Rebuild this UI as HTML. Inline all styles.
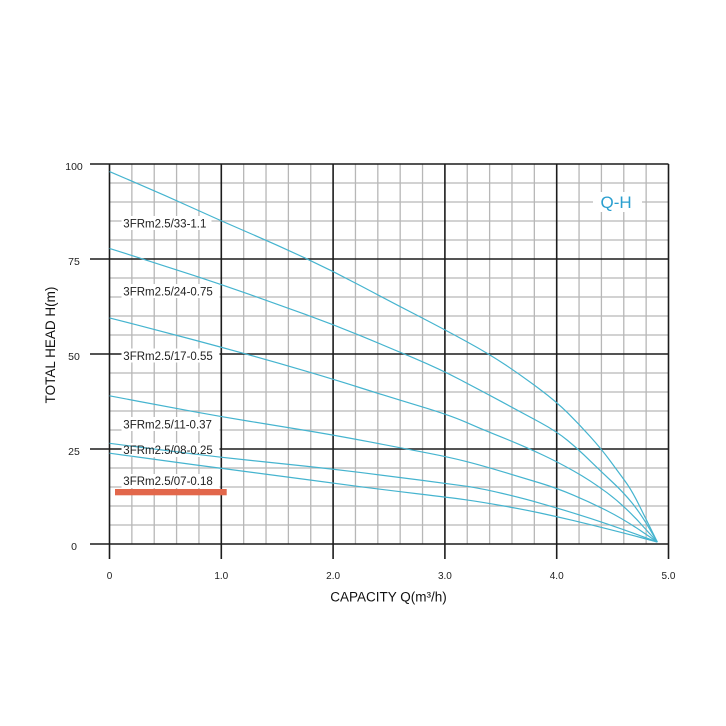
<!DOCTYPE html>
<html><head><meta charset="utf-8"><style>
html,body{margin:0;padding:0;background:#fff;}
svg{display:block;}
text{font-family:"Liberation Sans",Arial,sans-serif;}
</style></head><body>
<svg width="726" height="726" viewBox="0 0 726 726" xmlns="http://www.w3.org/2000/svg">
<rect width="726" height="726" fill="#fff"/>
<g stroke="#b7b7b7" stroke-width="1.3" fill="none">
<path d="M131.86 164V544M154.22 164V544M176.58 164V544M198.94 164V544M243.66 164V544M266.02 164V544M288.38 164V544M310.74 164V544M355.46 164V544M377.82 164V544M400.18 164V544M422.54 164V544M467.26 164V544M489.62 164V544M511.98 164V544M534.34 164V544M579.06 164V544M601.42 164V544M623.78 164V544M646.14 164V544"/>
<path d="M109.5 183H668.5M109.5 202H668.5M109.5 221H668.5M109.5 240H668.5M109.5 278H668.5M109.5 297H668.5M109.5 316H668.5M109.5 335H668.5M109.5 373H668.5M109.5 392H668.5M109.5 411H668.5M109.5 430H668.5M109.5 468H668.5M109.5 487H668.5M109.5 506H668.5M109.5 525H668.5"/>
</g>
<g stroke="#1c1c1c" stroke-width="1.6" fill="none">
<path d="M109.5 164V559M221.3 164V559M333.1 164V559M444.9 164V559M556.7 164V559M668.5 164V559"/>
<path d="M90 164H668.5M90 259H668.5M90 354H668.5M90 449H668.5M90 544H668.5"/>
</g>
<g fill="#fff">
<rect x="121.5" y="216" width="90" height="14"/>
<rect x="121.5" y="284" width="98" height="14"/>
<rect x="121.5" y="348.5" width="98" height="14"/>
<rect x="121.5" y="417" width="98" height="14"/>
<rect x="121.5" y="443" width="98" height="14"/>
<rect x="121.5" y="474" width="98" height="14"/>
<rect x="593" y="192" width="49" height="20"/>
</g>
<g stroke="#45b4cf" stroke-width="1.2" fill="none" stroke-linejoin="round">
<path d="M109.5,171.6 L137.45,183.55 Q165.4,195.5 193.35,208.25 Q221.3,221 249.25,233 Q277.2,245 305.15,258.1 Q333.1,271.2 361.05,286 Q389,300.8 416.95,315.25 Q444.9,329.7 467.1,341.85 Q489.3,354 506.25,365.4 Q523.2,376.8 539.95,389.35 Q556.7,401.9 567.9,413.1 Q579.1,424.3 590.25,436.65 Q601.4,449 609.8,460.4 Q618.2,471.8 624.9,480.9 Q631.6,490 638.85,504.65 Q646.1,519.3 651.7,530.65 L657.3,542"/>
<path d="M109.5,248.4 L137.45,257.3 Q165.4,266.2 193.35,275.35 Q221.3,284.5 249.25,294.35 Q277.2,304.2 305.15,314.3 Q333.1,324.4 361.05,335.95 Q389,347.5 414.5,358.35 Q440,369.2 460,379.65 Q480,390.1 501.6,401.7 Q523.2,413.3 539.95,422.4 Q556.7,431.5 567.35,440.25 Q578,449 589.7,460.4 Q601.4,471.8 612.6,482.25 Q623.8,492.7 632.2,503.15 Q640.6,513.6 648.95,527.8 L657.3,542"/>
<path d="M109.5,317.9 L137.45,325.1 Q165.4,332.3 193.35,339.75 Q221.3,347.2 249.25,354.95 Q277.2,362.7 305.15,370.9 Q333.1,379.1 361.05,388 Q389,396.9 419.5,406.05 Q450,415.2 465,421.85 Q480,428.5 494.3,434.2 Q508.6,439.9 519.25,444.45 Q529.9,449 543.3,455.25 Q556.7,461.5 573.45,470.85 Q590.2,480.2 607,492.7 Q623.8,505.2 640.55,523.6 L657.3,542"/>
<path d="M109.5,395.8 L137.45,401.1 Q165.4,406.4 193.35,411.55 Q221.3,416.7 249.25,421.25 Q277.2,425.8 305.15,430.35 Q333.1,434.9 370,441.95 Q406.9,449 428.45,453.2 Q450,457.4 465,461.2 Q480,465 501.6,471.45 Q523.2,477.9 539.95,483 Q556.7,488.1 573.45,495.15 Q590.2,502.2 607,510.75 Q623.8,519.3 640.55,530.65 L657.3,542"/>
<path d="M109.5,443.3 L137.45,446.9 Q165.4,450.5 193.35,453.95 Q221.3,457.4 249.25,460.25 Q277.2,463.1 305.15,466.1 Q333.1,469.1 361.05,472.55 Q389,476 419.5,480 Q450,484 465,486.05 Q480,488.1 501.6,493.25 Q523.2,498.4 539.95,503.15 Q556.7,507.9 573.45,513.05 Q590.2,518.2 607,523.9 Q623.8,529.6 640.55,535.8 L657.3,542"/>
<path d="M109.5,453.2 L137.45,457 Q165.4,460.8 193.35,464.6 Q221.3,468.4 249.25,472 Q277.2,475.6 305.15,479.4 Q333.1,483.2 361.05,486.8 Q389,490.4 419.5,494 Q450,497.6 465,499.7 Q480,501.8 501.6,505.6 Q523.2,509.4 539.95,513 Q556.7,516.6 573.45,520.6 Q590.2,524.6 607,528.8 Q623.8,533 640.55,537.5 L657.3,542"/>
</g>
<rect x="115" y="489" width="111.7" height="6.3" fill="#e2674b"/>
<g font-size="11.5" fill="#1e1e1e">
<text x="123.3" y="227.5">3FRm2.5/33-1.1</text>
<text x="123.3" y="295.3">3FRm2.5/24-0.75</text>
<text x="123.3" y="359.9">3FRm2.5/17-0.55</text>
<text x="123.3" y="428.5">3FRm2.5/11-0.37</text>
<text x="123.3" y="454.2">3FRm2.5/08-0.25</text>
<text x="123.3" y="485.2">3FRm2.5/07-0.18</text>
</g>
<text x="600.5" y="207.8" font-size="17" fill="#2a9fcf">Q-H</text>
<g font-size="10.5" fill="#222" text-anchor="middle">
<text x="74" y="169.8">100</text>
<text x="74" y="264.8">75</text>
<text x="74" y="359.8">50</text>
<text x="74" y="454.8">25</text>
<text x="74" y="549.8">0</text>
</g>
<g font-size="10" fill="#222" text-anchor="middle">
<text x="109.5" y="578.8">0</text>
<text x="221.3" y="578.8">1.0</text>
<text x="333.1" y="578.8">2.0</text>
<text x="444.9" y="578.8">3.0</text>
<text x="556.7" y="578.8">4.0</text>
<text x="668.5" y="578.8">5.0</text>
</g>
<text x="388.5" y="601.5" font-size="13.5" fill="#111" text-anchor="middle">CAPACITY Q(m³/h)</text>
<text transform="translate(55,345) rotate(-90)" x="0" y="0" font-size="13.5" fill="#111" text-anchor="middle">TOTAL HEAD H(m)</text>
</svg>
</body></html>
